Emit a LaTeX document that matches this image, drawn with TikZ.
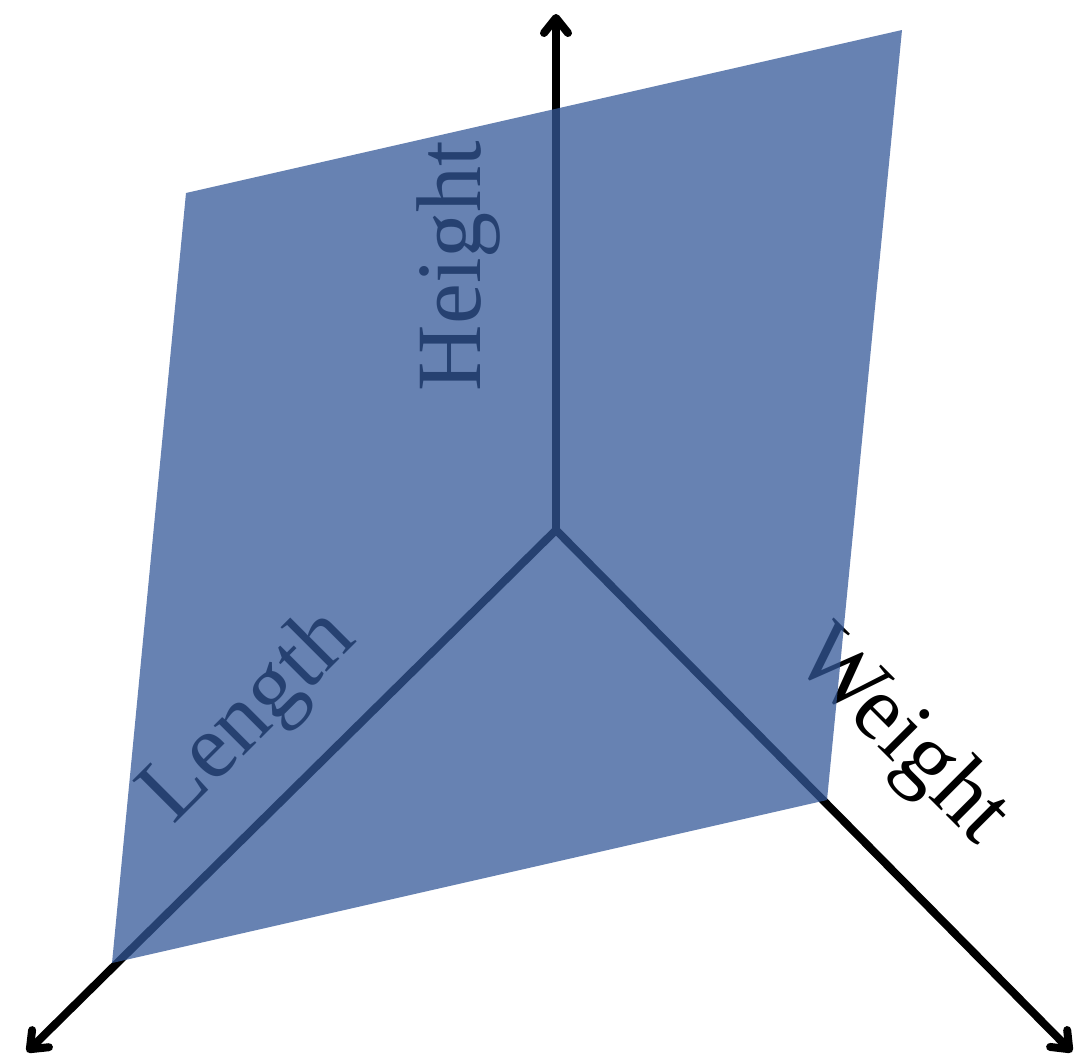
\documentclass[tikz,border=0pt]{standalone}
\usepackage{fontspec}
\setmainfont{Liberation Serif}
\usetikzlibrary{arrows.meta}
\definecolor{planeblue}{RGB}{52,88,152}
\begin{document}
\begin{tikzpicture}[x=1pt,y=-1pt,
  axis/.style={line width=8pt, line cap=round,
    -{Straight Barb[length=15pt,width=24pt,line cap=round,line join=round]}},
  lab/.style={inner sep=0pt, font=\fontsize{92}{92}\selectfont},
  plane/.style={fill=planeblue, fill opacity=0.75}]
\useasboundingbox (0,0) rectangle (1084,1061);
\coordinate (O) at (556,530);
\coordinate (Htip) at (556,14);
\coordinate (Ltip) at (27,1052);
\coordinate (Wtip) at (1072,1052);
\draw[axis] (O) -- (Htip);
\draw[axis] (O) -- (Ltip);
\draw[axis] (O) -- (Wtip);
\node[lab, rotate=90] (hlab) at (459,266) {Height};
\node[lab, rotate=45] (llab) at (250,718) {Length};
\node[lab, rotate=-45] (wlab) at (900,738) {Weight};
\coordinate (P1) at (186,193);
\coordinate (P2) at (902,30);
\coordinate (P3) at (827,800);
\coordinate (P4) at (112,963);
\path[plane] (P1) -- (P2) -- (P3) -- (P4) -- cycle;
\end{tikzpicture}
\end{document}
